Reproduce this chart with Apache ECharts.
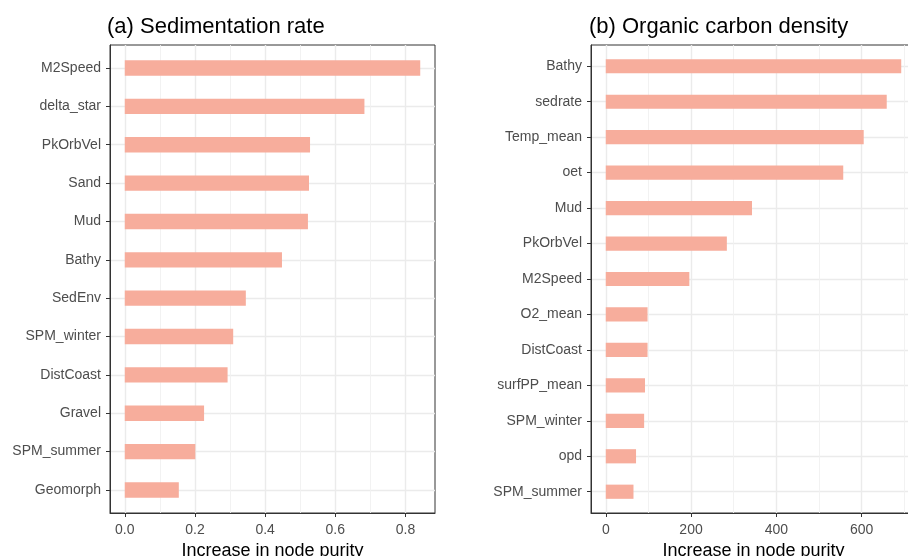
<!DOCTYPE html>
<html><head><meta charset="utf-8">
<script src="https://cdn.jsdelivr.net/npm/echarts@6/dist/echarts.min.js"></script>
<style>html,body{margin:0;padding:0;background:#fff;overflow:hidden}#c{width:908px;height:556px}</style>
</head><body><div id="c"></div>
<script>
// Panel (a) Sedimentation rate
const catsA = ['M2Speed','delta_star','PkOrbVel','Sand','Mud','Bathy','SedEnv','SPM_winter','DistCoast','Gravel','SPM_summer','Geomorph'];
const valsA = [0.842, 0.683, 0.528, 0.525, 0.522, 0.448, 0.345, 0.309, 0.293, 0.226, 0.201, 0.154];
const ticksA = [0, 0.2, 0.4, 0.6, 0.8];
const minorA = [0.1, 0.3, 0.5, 0.7];
// Panel (b) Organic carbon density
const catsB = ['Bathy','sedrate','Temp_mean','oet','Mud','PkOrbVel','M2Speed','O2_mean','DistCoast','surfPP_mean','SPM_winter','opd','SPM_summer'];
const valsB = [693, 659, 605, 557, 343, 284, 196, 98, 98, 92, 90, 71, 65];
const ticksB = [0, 200, 400, 600];
const minorB = [100, 300, 500, 700];
const titles = ['(a) Sedimentation rate', '(b) Organic carbon density'];
const xTitle = 'Increase in node purity';

const FONT = '"Liberation Sans", Arial, sans-serif';
const TOP = 45, BOTTOM = 43;
const H = 556 - TOP - BOTTOM;

const option = {
  animation: false,
  backgroundColor: '#fff',
  title: [], grid: [], xAxis: [], yAxis: [], series: []
};

function addPanel(i, cats, vals, ticks, minor, fmt, left, right, titleLeft, title) {
  const maxV = Math.max(...vals);
  const xmin = -0.05 * maxV, xmax = 1.05 * maxV;
  const n = cats.length;
  const u = H / (n + 0.2);
  const gP = option.grid.length;
  option.grid.push({left: left, right: right, top: TOP, bottom: BOTTOM, show: true,
    outerBoundsMode: 'none', containLabel: false,
    borderColor: '#333333', borderWidth: 1, backgroundColor: '#fff'});
  option.grid.push({left: left, right: right, top: TOP + 0.1 * u, bottom: BOTTOM + 0.1 * u,
    outerBoundsMode: 'none', containLabel: false});
  const gB = gP + 1;
  option.title.push({text: title, left: titleLeft, top: 16, padding: 0,
    textStyle: {fontFamily: FONT, fontSize: 22, fontWeight: 'normal', color: '#000'}});
  // major x axis
  option.xAxis.push({type: 'value', gridIndex: gP, min: xmin, max: xmax,
    name: xTitle, nameLocation: 'middle', nameGap: 27,
    nameTextStyle: {fontFamily: FONT, fontSize: 18, color: '#000'},
    axisLine: {show: true, onZero: false, lineStyle: {color: '#333333', width: 1}},
    axisTick: {show: true, length: 4, lineStyle: {color: '#333333', width: 1}, customValues: ticks},
    axisLabel: {show: true, customValues: ticks, margin: 10, fontFamily: FONT, fontSize: 14, color: '#4d4d4d', formatter: fmt},
    splitLine: {show: true, lineStyle: {color: '#ebebeb', width: 1.4}}
  });
  // minor x axis
  option.xAxis.push({type: 'value', gridIndex: gP, min: xmin, max: xmax,
    axisLine: {show: false, onZero: false},
    axisTick: {show: false, customValues: minor},
    axisLabel: {show: false, customValues: minor},
    splitLine: {show: true, lineStyle: {color: '#f0f0f0', width: 0.9}}
  });
  // bar x axis
  const xBar = option.xAxis.length;
  option.xAxis.push({type: 'value', gridIndex: gB, min: xmin, max: xmax, show: false,
    splitLine: {show: false}});
  // label y axis
  const centers = cats.map((c, k) => k + 1);
  option.yAxis.push({type: 'value', gridIndex: gP, min: 0.4, max: n + 0.6, inverse: true,
    axisLine: {show: true, onZero: false, lineStyle: {color: '#333333', width: 1}},
    axisTick: {show: true, length: 4, lineStyle: {color: '#333333', width: 1}, customValues: centers},
    axisLabel: {show: true, customValues: centers, margin: 9, padding: [3, 0, 0, 0], fontFamily: FONT, fontSize: 14, color: '#4d4d4d',
      formatter: v => cats[Math.round(v) - 1] || ''},
    splitLine: {show: true, lineStyle: {color: '#ebebeb', width: 1.4}}
  });
  const yBar = option.yAxis.length;
  option.yAxis.push({type: 'category', gridIndex: gB, data: cats, inverse: true, show: false});
  option.series.push({type: 'bar', xAxisIndex: xBar, yAxisIndex: yBar, data: vals,
    barWidth: '40%', silent: true,
    itemStyle: {color: '#f7ad9c'}});
}

addPanel(0, catsA, valsA, ticksA, minorA, v => v.toFixed(1), 110, 473, 107, titles[0]);
addPanel(1, catsB, valsB, ticksB, minorB, v => String(Math.round(v)), 591, -8, 589, titles[1]);

const chart = echarts.init(document.getElementById('c'), null, {renderer: 'canvas'});
chart.setOption(option);
</script>
</body></html>
